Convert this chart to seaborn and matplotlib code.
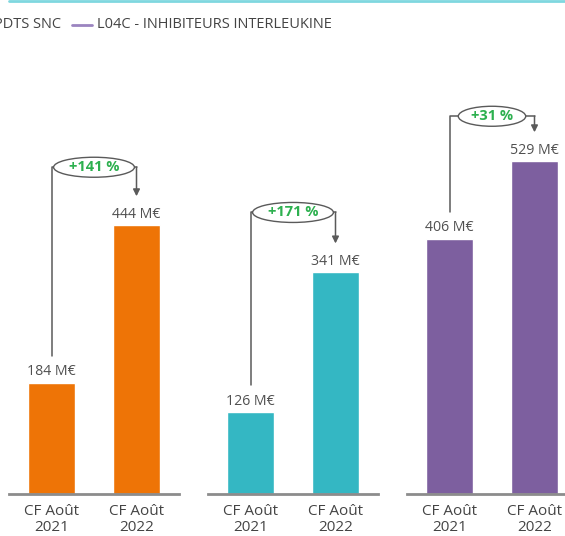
import numpy as np
import pandas as pd
import seaborn as sns
import matplotlib
matplotlib.use("Agg")
import matplotlib.pyplot as plt
from matplotlib.patches import Ellipse
from matplotlib.lines import Line2D

# data
periodes = ["CF Août\n2021", "CF Août\n2022"]
groupes = ["N06 - PDTS SNC", "L04 - AUTRES", "L04C - INHIBITEURS INTERLEUKINE"]
ca_groupe1 = [184, 444]
ca_groupe2 = [126, 341]
ca_groupe3 = [406, 529]
croissance = ["+141 %", "+171 %", "+31 %"]
couleurs = ["#EE7406", "#34B7C3", "#7D5F9F"]

sns.set_theme(style="white")
plt.rcParams["font.family"] = ["Open Sans", "DejaVu Sans"]

W, H = 565, 536
fig = plt.figure(figsize=(W / 100, H / 100), dpi=100)

gris_txt = "#505050"
gris_ligne = "#5a5a5a"
vert = "#2DB04F"

# layout in pixels
gauches = [9, 208, 407]
larg_ax = 170
base_y = 494
haut_ax = 434
y_max = [717, 668, 690]
dy_ellipse = [58, 60, 45]

series = [ca_groupe1, ca_groupe2, ca_groupe3]
renderer = fig.canvas.get_renderer()

for i, vals in enumerate(series):
    ax = fig.add_axes([gauches[i] / W, (H - base_y) / H, larg_ax / W, haut_ax / H])
    df = pd.DataFrame({"periode": periodes, "ca": vals})
    sns.barplot(data=df, x="periode", y="ca", color=couleurs[i], saturation=1,
                width=0.55, ax=ax)
    ax.set_xlim(-0.5, 1.5)
    ax.set_ylim(0, y_max[i])
    ax.set_xlabel("")
    ax.set_ylabel("")
    ax.set_yticks([])
    for s in ["left", "right", "top"]:
        ax.spines[s].set_visible(False)
    ax.spines["bottom"].set_color("#8c8c8c")
    ax.spines["bottom"].set_linewidth(2)
    ax.tick_params(axis="x", length=0, pad=7, labelsize=11, labelcolor="#444444")
    for lab in ax.get_xticklabels():
        lab.set_linespacing(1.1)
    ax.patch.set_alpha(0)

    k = y_max[i] / haut_ax  # data units per pixel
    for x, v in enumerate(vals):
        ax.text(x, v + 11 * k, f"{v} M€", ha="center", va="center",
                fontsize=10.2, color=gris_txt)

    v0, v1 = vals
    y0 = v0 + 27 * k
    ye = v1 + dy_ellipse[i] * k
    ya = v1 + 29 * k

    t = ax.text(0.5, ye, croissance[i], ha="center", va="center", fontsize=10.5,
                fontweight="bold", color=vert, zorder=5)
    w_px = t.get_window_extent(renderer=renderer).width
    w_data = w_px * 1.6 / (larg_ax / 2)
    h_data = 20 * k
    ax.add_patch(Ellipse((0.5, ye), w_data, h_data, facecolor="white",
                         edgecolor=gris_ligne, lw=1.0, zorder=4))
    gauche_e = 0.5 - w_data / 2
    droite_e = 0.5 + w_data / 2
    ax.plot([0, 0, gauche_e], [y0, ye, ye], color=gris_ligne, lw=1.1,
            solid_joinstyle="round", zorder=3)
    ax.plot([droite_e, 1], [ye, ye], color=gris_ligne, lw=1.1, zorder=3)
    ax.annotate("", xy=(1, ya), xytext=(1, ye),
                arrowprops=dict(arrowstyle="-|>", color=gris_ligne, lw=1.1,
                                mutation_scale=10, shrinkA=0, shrinkB=0),
                zorder=3)

# top rule and legend
fig.add_artist(Line2D([9 / W, 1], [1 - 1 / H, 1 - 1 / H], color="#7FD7DF", lw=2))
y_leg = 1 - 24.5 / H
fig.text(61 / W, y_leg, "PDTS SNC", ha="right", va="center", fontsize=10.5,
         color="#444444")
fig.add_artist(Line2D([72 / W, 92 / W], [y_leg, y_leg], color="#9B84C0", lw=2))
fig.text(97 / W, y_leg, groupes[2], ha="left", va="center", fontsize=10.5,
         color="#444444")

fig.savefig("out.png", dpi=100)
